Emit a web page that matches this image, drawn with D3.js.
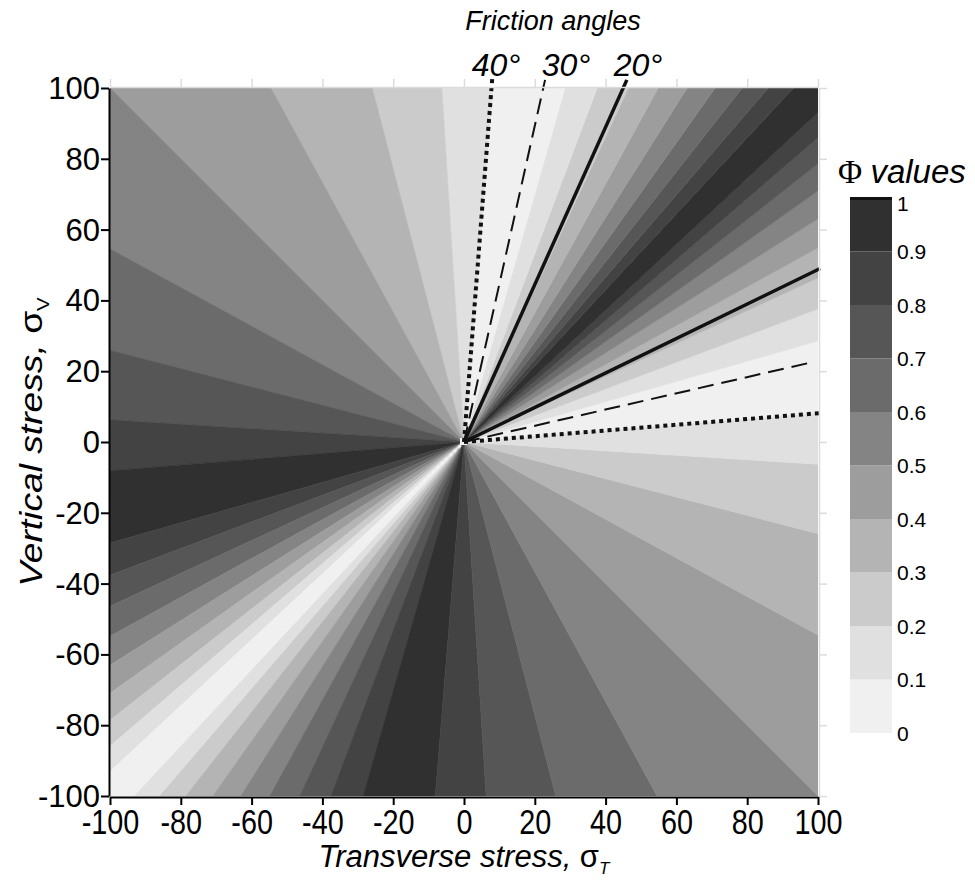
<!DOCTYPE html>
<html>
<head>
<meta charset="utf-8">
<script src="https://cdnjs.cloudflare.com/ajax/libs/d3/7.8.5/d3.min.js"></script>
<style>
  body { margin: 0; background: #fff; }
  svg text { font-family: "Liberation Sans", Arial, sans-serif; fill: #000; }
  .axis-main path, .axis-main line { stroke: #000; stroke-width: 2; }
  .axis-mirror path, .axis-mirror line { stroke: #dcdcdc; stroke-width: 1.5; }
  .axis-mirror text { display: none; }
  .title { font-style: italic; }
</style>
</head>
<body>
<svg id="chart" width="975" height="884"></svg>
<script>
// wedge boundaries (degrees from +σT axis, counter-clockwise) and the Φ band of each wedge
const wedgeEdges = [4.63, 15.92, 20.61, 24.89, 28.75, 32.23, 35.36, 38.16, 40.68, 42.95,
  47.05, 49.32, 51.84, 54.64, 57.77, 61.25, 65.11, 69.39, 74.08,
  85.37, 93.58, 104.53, 118.61, 135, 151.39, 165.47, 176.42, 184.64,
  195.92, 200.61, 204.89, 208.75, 212.23, 215.36, 218.16, 220.68, 222.95,
  227.05, 229.32, 231.84, 234.64, 237.77, 241.25, 245.11, 249.39, 254.08,
  265.36, 273.58, 284.53, 298.61, 315, 331.39, 345.47, 356.42]
const wedgeLevels = [0,1,2,3,4,5,6,7,8,9, 8,7,6,5,4,3,2,1,0,
  1,2,3,4,5,6,7,8,9, 8,7,6,5,4,3,2,1,0, 1,2,3,4,5,6,7,8,9, 8,7,6,5,4,3,2,1]

const bandColors = ["#f0f0f0", "#e0e0e0", "#cbcbcb", "#b4b4b4", "#9d9d9d",
  "#848484", "#6b6b6b", "#565656", "#434343", "#303030"]
const legendTicks = [0, 0.1, 0.2, 0.3, 0.4, 0.5, 0.6, 0.7, 0.8, 0.9, 1]

const axisTicks = [-100, -80, -60, -40, -20, 0, 20, 40, 60, 80, 100]

// friction angle lines: end points in stress units (both start at the origin)
const frictionLabels = ["40°", "30°", "20°"]
const frictionUpper = [[8, 103], [22.9, 102.3], [46, 102.3]]
const frictionLower = [[101, 8.2], [98.6, 22.6], [100.6, 49]]
const frictionDash = ["4,4", "16,8", null]
const frictionWidth = [4, 2, 3.5]

const svg = d3.select("#chart")

const x = d3.scaleLinear().domain([-100, 100]).range([110, 818])
const y = d3.scaleLinear().domain([-100, 100]).range([796, 88])

svg.append("defs").append("clipPath").attr("id", "plot-clip")
  .append("rect")
  .attr("x", x(-100)).attr("y", y(100))
  .attr("width", x(100) - x(-100)).attr("height", y(-100) - y(100))

const plot = svg.append("g").attr("clip-path", "url(#plot-clip)")

const R = 400
const wedges = wedgeEdges.map((a0, i) => {
  let a1 = i < wedgeEdges.length - 1 ? wedgeEdges[i + 1] : wedgeEdges[0] + 360
  return {a0, a1, level: wedgeLevels[i]}
})

const line = d3.line()
wedges.forEach(w => {
  const pts = [[x(0), y(0)]]
  const steps = 6
  for (let s = 0; s <= steps; s++) {
    const a = (w.a0 + (w.a1 - w.a0) * s / steps) * Math.PI / 180
    pts.push([x(R * Math.cos(a)), y(R * Math.sin(a))])
  }
  plot.append("path")
    .attr("d", line(pts) + "Z")
    .attr("fill", bandColors[w.level])
    .attr("stroke", bandColors[w.level])
    .attr("stroke-width", 0.6)
})

// contouring speckle near the origin along the Φ = 0 diagonal
plot.append("line")
  .attr("x1", x(-1)).attr("y1", y(-1))
  .attr("x2", x(-27)).attr("y2", y(-26))
  .attr("stroke", "#f4f4f4").attr("stroke-width", 3)
  .attr("stroke-dasharray", "3,3").attr("opacity", 0.85)
plot.append("rect")
  .attr("x", x(0) - 4).attr("y", y(0) - 4)
  .attr("width", 7).attr("height", 7)
  .attr("fill", "#f2f2f2")

// friction lines
const lines = svg.append("g")
frictionLabels.forEach((lab, i) => {
  [frictionUpper[i], frictionLower[i]].forEach(p => {
    lines.append("line")
      .attr("x1", x(0)).attr("y1", y(0))
      .attr("x2", x(p[0])).attr("y2", y(p[1]))
      .attr("stroke", "#111")
      .attr("stroke-width", frictionWidth[i])
      .attr("stroke-dasharray", frictionDash[i])
  })
})

// mirror axes (top / right)
svg.append("g").attr("class", "axis-mirror")
  .attr("transform", `translate(0,${y(100) - 1})`)
  .call(d3.axisTop(x).tickValues(axisTicks).tickSize(8).tickSizeOuter(0))
svg.append("g").attr("class", "axis-mirror")
  .attr("transform", `translate(${x(100) + 1},0)`)
  .call(d3.axisRight(y).tickValues(axisTicks).tickSize(8).tickSizeOuter(0))

// main axes
const fmt = d => String(d)
const yAxis = svg.append("g").attr("class", "axis-main")
  .attr("transform", `translate(${x(-100) - 1},0)`)
  .call(d3.axisLeft(y).tickValues(axisTicks).tickFormat(fmt)
    .tickSize(8).tickSizeOuter(0).tickPadding(1))
yAxis.selectAll("text").attr("font-size", 31).attr("dy", "0.34em")

const xAxis = svg.append("g").attr("class", "axis-main")
  .attr("transform", `translate(0,${y(-100) + 1})`)
  .call(d3.axisBottom(x).tickValues(axisTicks).tickFormat(fmt)
    .tickSize(8).tickSizeOuter(0).tickPadding(3))
xAxis.selectAll("text")
  .attr("font-size", 32)
  .attr("transform", "scale(0.9,1.1)")

// axis titles
svg.append("text").attr("class", "title")
  .attr("transform", `translate(42,${y(0)}) rotate(-90) scale(1.2,1)`)
  .attr("text-anchor", "middle")
  .attr("font-size", 31)
  .html('Vertical stress, <tspan font-style="normal">σ</tspan><tspan font-size="17" dy="7" font-style="normal">V</tspan>')

svg.append("text").attr("class", "title")
  .attr("x", x(0)).attr("y", 867)
  .attr("text-anchor", "middle")
  .attr("font-size", 31)
  .html('Transverse stress, <tspan font-style="normal">σ</tspan><tspan font-size="17" dy="7">T</tspan>')

// friction angle labels
svg.append("text").attr("class", "title")
  .attr("x", 553).attr("y", 30)
  .attr("text-anchor", "middle")
  .attr("font-size", 27)
  .text("Friction angles")
const labelX = [496, 566, 638]
frictionLabels.forEach((lab, i) => {
  svg.append("text").attr("class", "title")
    .attr("x", labelX[i]).attr("y", 76)
    .attr("text-anchor", "middle")
    .attr("font-size", 32)
    .text(lab)
})

// legend
const lg = d3.scaleLinear().domain([0, 1]).range([733, 198])
const legend = svg.append("g")
legendTicks.slice(0, -1).forEach((v, i) => {
  legend.append("rect")
    .attr("x", 850).attr("width", 42)
    .attr("y", lg(legendTicks[i + 1])).attr("height", lg(v) - lg(legendTicks[i + 1]))
    .attr("fill", bandColors[i])
})
legend.append("rect").attr("x", 850).attr("width", 42)
  .attr("y", lg(1) - 1).attr("height", 3).attr("fill", "#111")
legendTicks.forEach(v => {
  legend.append("text")
    .attr("x", 897).attr("y", v === 1 ? lg(v) + 5 : lg(v)).attr("dy", "0.36em")
    .attr("font-size", 21)
    .text(v)
})
const lt = svg.append("text").attr("x", 838).attr("y", 183).attr("font-size", 33)
lt.append("tspan").attr("font-family", "Liberation Serif, serif").text("Φ ")
lt.append("tspan").attr("font-style", "italic").text("values")
</script>
</body>
</html>
